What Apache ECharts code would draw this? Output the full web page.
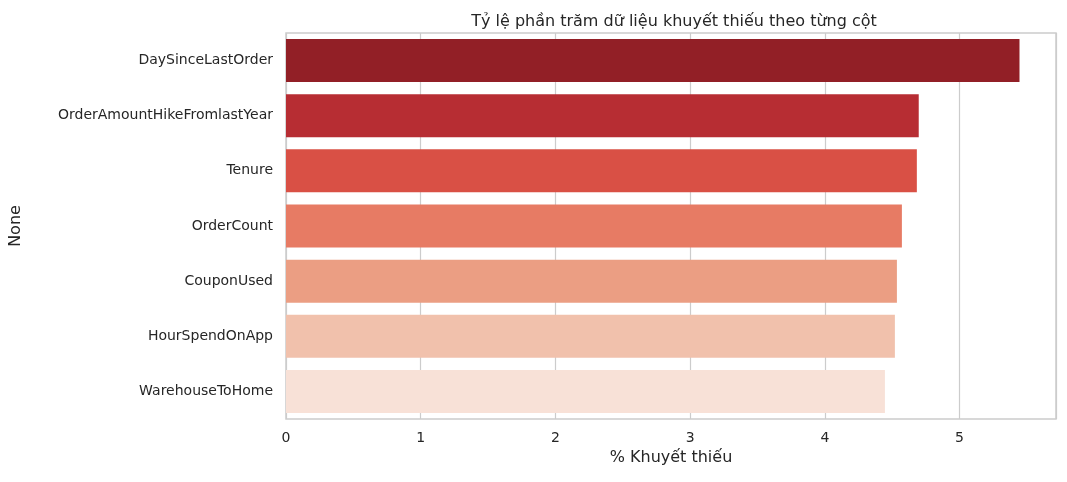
<!DOCTYPE html>
<html>
  <head>
    <meta charset="utf-8">
    <title>Missing data</title>
    <script src="https://cdn.jsdelivr.net/npm/echarts@6/dist/echarts.min.js"></script>
  </head>
  <body style="margin:0">
    <div id="main" style="width:1067px; height:482px;"></div>
    <script>
      var categories = ['DaySinceLastOrder', 'OrderAmountHikeFromlastYear', 'Tenure', 'OrderCount', 'CouponUsed', 'HourSpendOnApp', 'WarehouseToHome']
      var values = [5.445, 4.697, 4.683, 4.572, 4.535, 4.52, 4.446]
      var colors = ['#921f26', '#b72d33', '#d95045', '#e77b64', '#eb9e83', '#f1c1ac', '#f8e1d7']
      var ticks = [0, 1, 2, 3, 4, 5]

      var chart = echarts.init(document.querySelector('#main'))
      var font = 'DejaVu Sans'
      chart.setOption({
        animation: false,
        textStyle: {fontFamily: font},
        title: {
          text: 'Tỷ lệ phần trăm dữ liệu khuyết thiếu theo từng cột',
          left: 669, top: 9, textAlign: 'center',
          textStyle: {fontSize: 16, fontWeight: 'normal', color: '#262626', fontFamily: font}
        },
        grid: {left: 282, top: 33, right: 11, bottom: 63, show: true, borderColor: '#cccccc', borderWidth: 1.5},
        xAxis: {
          type: 'value', min: 0, max: 5.716, interval: 1,
          name: '% Khuyết thiếu', nameLocation: 'middle', nameGap: 30,
          nameTextStyle: {fontSize: 16, color: '#262626'},
          axisLine: {show: false}, axisTick: {show: false},
          axisLabel: {fontSize: 14, color: '#262626', margin: 12,
            formatter: function (v) { return ticks.indexOf(v) >= 0 ? String(v) : '' }},
          splitLine: {lineStyle: {color: '#cccccc', width: 1.2}}
        },
        yAxis: {
          type: 'category', data: categories, inverse: true,
          name: 'None', nameLocation: 'middle', nameGap: 262, nameRotate: 90,
          nameTextStyle: {fontSize: 16, color: '#262626'},
          axisLine: {show: false}, axisTick: {show: false},
          axisLabel: {fontSize: 14, color: '#262626', margin: 13},
          splitLine: {show: false}
        },
        series: [{
          type: 'bar', barWidth: '78%',
          data: values.map(function (v, i) {
            return {value: v, itemStyle: {color: colors[i]}}
          })
        }]
      })
    </script>
  </body>
</html>
